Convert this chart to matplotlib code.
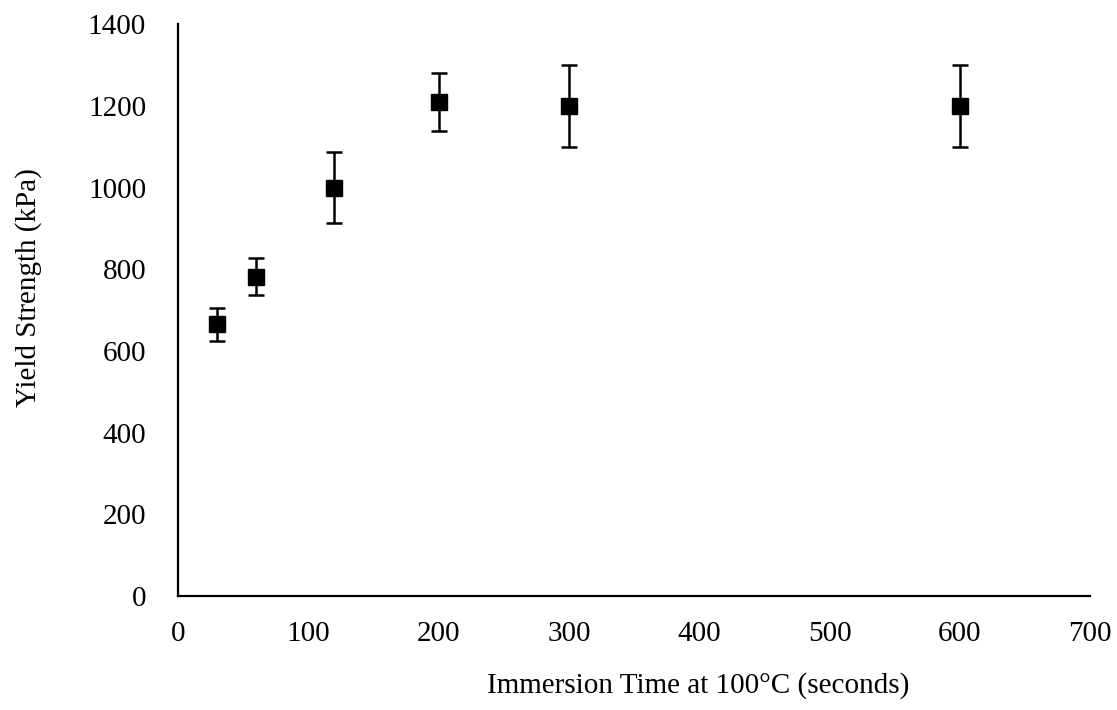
import matplotlib
matplotlib.use("Agg")
import matplotlib.pyplot as plt

time_s = [30, 60, 120, 200, 300, 600]
yield_kpa = [665, 782, 1000, 1210, 1200, 1200]
err_kpa = [40, 46, 87, 71, 101, 101]
xticks = [0, 100, 200, 300, 400, 500, 600, 700]
yticks = [0, 200, 400, 600, 800, 1000, 1200, 1400]

plt.rcParams['font.family'] = ['Liberation Serif', 'DejaVu Serif']

fig = plt.figure(figsize=(11.17, 7.10), dpi=100)
ax = fig.add_axes([0.1594, 0.1606, 0.8166, 0.8054])

ax.errorbar(time_s, yield_kpa, yerr=err_kpa, fmt='s', color='black',
            markersize=11, ecolor='black', elinewidth=1.8, capsize=6, capthick=1.8)

ax.set_xlim(0, 700)
ax.set_ylim(0, 1400)
ax.set_xticks(xticks)
ax.set_yticks(yticks)
ax.tick_params(axis='both', length=0, labelsize=21)
ax.tick_params(axis='y', pad=23)
ax.tick_params(axis='x', pad=18)
ax.spines['top'].set_visible(False)
ax.spines['right'].set_visible(False)
ax.spines['left'].set_linewidth(1.6)
ax.spines['bottom'].set_linewidth(1.6)
ax.set_xlabel('Immersion Time at 100\u00b0C (seconds)', fontsize=21)
ax.set_ylabel('Yield Strength (kPa)', fontsize=21)
ax.xaxis.set_label_coords(0.57, -0.157)
ax.xaxis.label.set_va('center')
ax.yaxis.set_label_coords(-0.164, 0.54)
ax.yaxis.label.set_va('center')

fig.savefig('out.png', dpi=100)
